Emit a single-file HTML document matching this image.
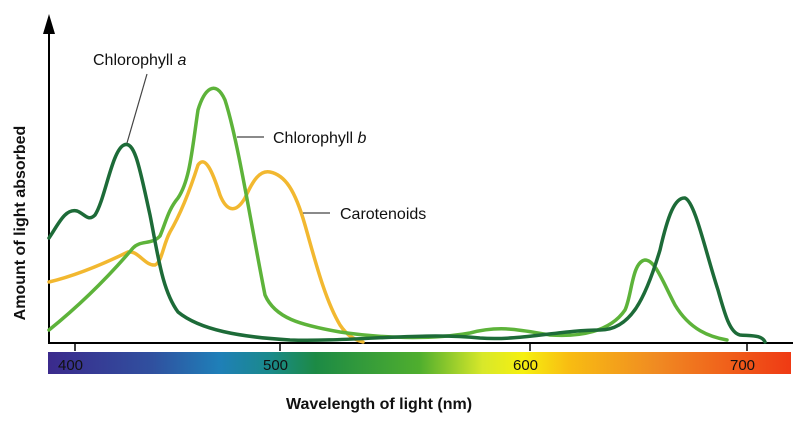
<!DOCTYPE html>
<html><head><meta charset="utf-8"><style>
html,body{margin:0;padding:0;background:#fff;}
svg{display:block;font-family:"Liberation Sans",Arial,sans-serif;}
</style></head><body>
<svg width="801" height="427" viewBox="0 0 801 427" xmlns="http://www.w3.org/2000/svg">
<defs>
<linearGradient id="spec" x1="0" x2="1" y1="0" y2="0">
<stop offset="0" stop-color="#3b2a8c"/>
<stop offset="0.14" stop-color="#30509f"/>
<stop offset="0.23" stop-color="#1f7fb8"/>
<stop offset="0.30" stop-color="#1a8a8a"/>
<stop offset="0.36" stop-color="#1c8a45"/>
<stop offset="0.50" stop-color="#4fae2e"/>
<stop offset="0.585" stop-color="#d8e82a"/>
<stop offset="0.64" stop-color="#f6f010"/>
<stop offset="0.70" stop-color="#f8bd12"/>
<stop offset="0.82" stop-color="#f08a22"/>
<stop offset="1" stop-color="#ef3a14"/>
</linearGradient>
</defs>
<rect x="48" y="352" width="743" height="22" fill="url(#spec)"/>
<g font-size="15" fill="#111">
<text x="58" y="370">400</text>
<text x="263" y="370">500</text>
<text x="513" y="370">600</text>
<text x="730" y="370">700</text>
</g>
<line x1="49" y1="30" x2="49" y2="344" stroke="#000" stroke-width="2"/>
<polygon points="43,34 49,14 55,34" fill="#000"/>
<line x1="48" y1="343" x2="793" y2="343" stroke="#000" stroke-width="2"/>
<g stroke="#000" stroke-width="1.5">
<line x1="75" y1="343" x2="75" y2="351"/>
<line x1="280" y1="343" x2="280" y2="351"/>
<line x1="530" y1="343" x2="530" y2="351"/>
<line x1="747" y1="343" x2="747" y2="351"/>
</g>
<g fill="none" stroke-width="3.5" stroke-linecap="round" stroke-linejoin="round">
<path stroke="#f2b830" d="M49,282 C70,277 95,268 128,252 C138,250 145,266 155,265 C162,262 163,245 170,232 C180,215 190,190 198,165 C205,155 212,170 220,195 C226,210 235,215 245,198 C253,180 260,170 270,172 C285,175 295,190 305,225 C315,260 325,300 340,325 C348,337 356,340 363,342"/>
<path stroke="#5db33a" d="M49,330 C80,305 110,275 133,248 C140,240 152,245 160,236 C166,222 168,210 178,198 C190,180 192,150 198,110 C204,90 215,78 225,100 C238,140 252,230 265,295 C275,318 300,325 340,332 C380,338 430,340 470,333 C500,325 520,330 550,335 C580,337 610,332 625,310 C632,295 632,262 645,260 C655,260 662,280 675,305 C690,330 710,337 727,340"/>
<path stroke="#1d6b38" d="M49,238 C58,225 65,208 77,211 C85,214 88,222 95,215 C105,200 112,150 124,145 C135,140 140,170 150,215 C158,255 162,290 178,312 C200,330 240,337 290,340 C350,342 420,332 480,338 C520,341 560,330 600,330 C630,330 645,300 660,250 C668,215 675,197 685,198 C695,202 705,250 718,290 C725,315 730,333 740,335 C752,336 762,335 765,342"/>
</g>
<g stroke="#444" stroke-width="1.2">
<line x1="147" y1="74" x2="127" y2="143"/>
<line x1="237" y1="137" x2="264" y2="137"/>
<line x1="303" y1="213" x2="330" y2="213"/>
</g>
<g font-size="16" fill="#111">
<text x="93" y="65">Chlorophyll <tspan font-style="italic">a</tspan></text>
<text x="273" y="143">Chlorophyll <tspan font-style="italic">b</tspan></text>
<text x="340" y="219">Carotenoids</text>
</g>
<text x="379" y="409" font-size="16" font-weight="bold" text-anchor="middle" fill="#111">Wavelength of light (nm)</text>
<text transform="translate(25,223) rotate(-90)" font-size="16" font-weight="bold" text-anchor="middle" fill="#111">Amount of light absorbed</text>
</svg>
</body></html>
